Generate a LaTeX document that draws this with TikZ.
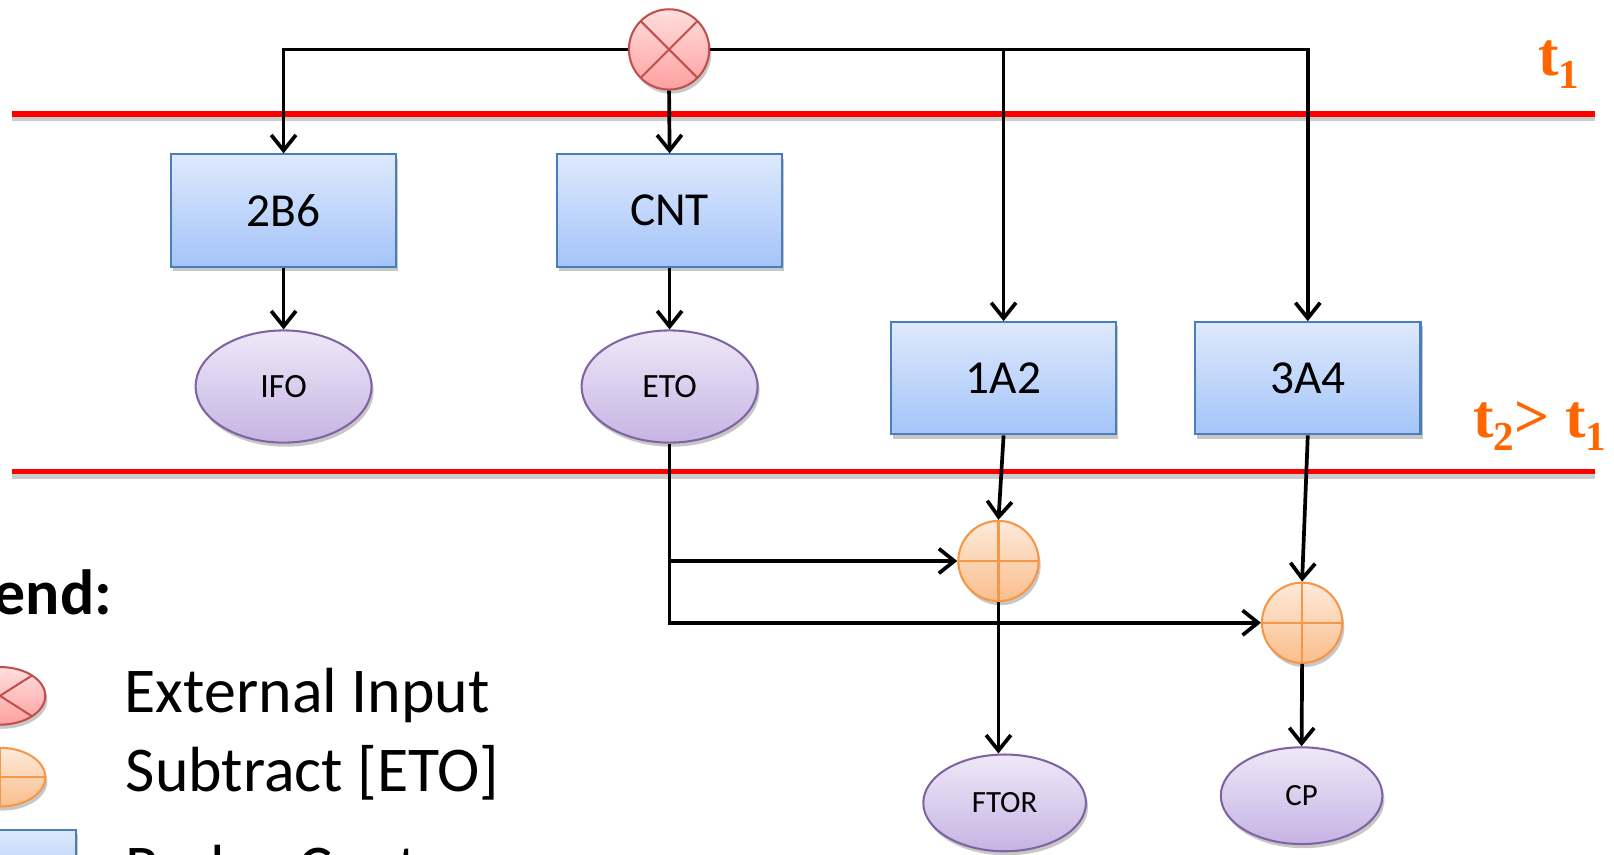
\documentclass[tikz,border=0pt]{standalone}
\usepackage{fontspec}
\setmainfont{Carlito}
\newfontfamily\timesfont{Liberation Serif}
\usetikzlibrary{arrows.meta,shapes.geometric,shadows}

\definecolor{xtop}{RGB}{255,222,222}
\definecolor{xbot}{RGB}{255,160,160}
\definecolor{xline}{RGB}{192,80,77}
\definecolor{stop}{RGB}{253,234,218}
\definecolor{sbot}{RGB}{250,190,140}
\definecolor{sline}{RGB}{247,150,70}
\definecolor{btop}{RGB}{222,233,252}
\definecolor{bbot}{RGB}{164,196,249}
\definecolor{bline}{RGB}{74,126,187}
\definecolor{dtop}{RGB}{238,232,247}
\definecolor{dbot}{RGB}{198,180,228}
\definecolor{dline}{RGB}{128,100,162}
\definecolor{tlab}{RGB}{255,102,0}
\definecolor{rail}{RGB}{255,0,0}
\definecolor{railshadow}{RGB}{204,204,204}

\newcommand\tsub[1]{\raisebox{-13pt}{\fontsize{40}{40}\selectfont #1}}

\tikzset{
  wire/.style={line width=3.6pt, black},
  arr/.style={wire, -{Straight Barb[length=15pt,width=24pt]}},
  softshadow/.style={drop shadow={shadow xshift=2pt, shadow yshift=-4pt, fill=black!22, opacity=1}},
  xin/.style={circle, draw=xline, line width=2pt, top color=xtop, bottom color=xbot,
    minimum size=78pt, inner sep=0, softshadow,
    path picture={\draw[xline, line width=2pt]
      (path picture bounding box.north west) -- (path picture bounding box.south east)
      (path picture bounding box.north east) -- (path picture bounding box.south west);}},
  subnode/.style={circle, draw=sline, line width=2pt, top color=stop, bottom color=sbot,
    minimum size=78pt, inner sep=0, softshadow,
    path picture={\draw[sline, line width=2pt]
      (path picture bounding box.north) -- (path picture bounding box.south)
      (path picture bounding box.west) -- (path picture bounding box.east);}},
  enzyme/.style={rectangle, draw=bline, line width=2pt, top color=btop, bottom color=bbot,
    minimum width=219pt, minimum height=109pt, inner sep=0, softshadow,
    font=\fontsize{46}{46}\selectfont},
  drug/.style={ellipse, draw=dline, line width=2pt, top color=dtop, bottom color=dbot,
    inner sep=0, softshadow},
  tlabel/.style={anchor=base west, inner sep=0, text=tlab,
    font=\timesfont\bfseries\fontsize{60}{60}\selectfont},
  legtext/.style={anchor=base west, inner sep=0, font=\fontsize{62}{62}\selectfont},
}

\begin{document}
\begin{tikzpicture}[x=1pt, y=-1pt]
\useasboundingbox (0,0) rectangle (1568,830);
\clip (0,0) rectangle (1568,830);

% time rails
\draw[railshadow, line width=5pt] (12,115.5) -- (1550,115.5);
\draw[rail, line width=5.5pt] (12,110.5) -- (1550,110.5);
\draw[railshadow, line width=5pt] (12,463) -- (1550,463);
\draw[rail, line width=5.5pt] (12,458) -- (1550,458);

\node[tlabel] (t1) at (1494,73) {t\tsub{1}};
\node[tlabel] (t2) at (1431,425) {t\tsub{2}> t\tsub{1}};

% stages
\node[xin] (ext) at (650,48) {};
\node[enzyme] (b2b6) at (275.5,204.5) {2B6};
\node[enzyme] (bcnt) at (650.5,204.5) {CNT};
\node[enzyme] (b1a2) at (975,367.5) {1A2};
\node[enzyme] (b3a4) at (1270.5,367.5) {3A4};
\node[drug, minimum width=171pt, minimum height=109pt, font=\fontsize{33}{33}\selectfont] (ifo) at (275.5,375.5) {IFO};
\node[drug, minimum width=171pt, minimum height=109pt, font=\fontsize{33}{33}\selectfont] (eto) at (650.5,375.5) {ETO};
\node[subnode] (p1) at (970,545) {};
\node[subnode] (p2) at (1265,605) {};
\node[drug, minimum width=158pt, minimum height=94pt, font=\fontsize{30}{30}\selectfont] (ftor) at (976,780) {FTOR};
\node[drug, minimum width=157pt, minimum height=94pt, font=\fontsize{30}{30}\selectfont] (cp) at (1264.5,773) {CP};

% connectors
\draw[arr] (ext.west) -| (b2b6.north);
\draw[arr] (ext.east) -| (b3a4.north);
\draw[arr] (ext.east -| b1a2.north) -- (b1a2.north);
\draw[arr] (ext.south) -- (bcnt.north);
\draw[arr] (b2b6.south) -- (ifo.north);
\draw[arr] (bcnt.south) -- (eto.north);
\draw[arr] (b1a2.south) -- (p1.north);
\draw[arr] (b3a4.south) -- (p2.north);
\draw[arr] (eto.south) |- (p2.west);
\draw[arr] (eto.south |- p1.west) -- (p1.west);
\draw[arr] (p1.south) -- (p1.south |- ftor.north);
\draw[arr] (p2.south) -- (cp.north);

% legend
\node[anchor=base east, inner sep=0, font=\bfseries\fontsize{62}{62}\selectfont] (legtitle) at (109,597) {Legend:};
\node[xin, ellipse, minimum width=88pt, minimum height=56pt] (lx) at (0,676) {};
\node[subnode, ellipse, minimum width=88pt, minimum height=57pt] (ls) at (0,755) {};
\node[rectangle, draw=bline, line width=2pt, top color=btop, bottom color=bbot,
  minimum width=134pt, minimum height=70pt, inner sep=0, softshadow] (lb) at (7,841) {};
\node[legtext] (lt1) at (121,692) {External Input};
\node[legtext] (lt2) at (122,768.5) {Subtract [ETO]};
\node[legtext] (lt3) at (122,864) {Redox Center};
\end{tikzpicture}
\end{document}
